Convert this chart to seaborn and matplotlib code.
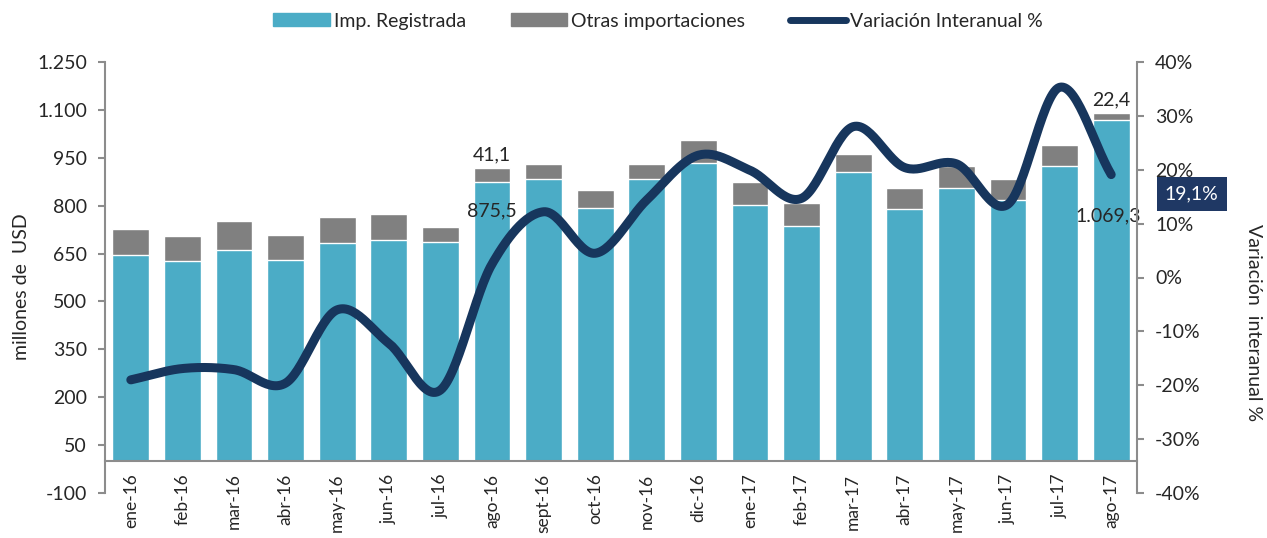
import matplotlib
matplotlib.use('Agg')
import matplotlib.pyplot as plt
import seaborn as sns
import pandas as pd
import numpy as np
from matplotlib.patches import Patch
from matplotlib.lines import Line2D
from matplotlib.ticker import FuncFormatter

# Datos (millones de USD y variacion interanual %)
meses = ['ene-16', 'feb-16', 'mar-16', 'abr-16', 'may-16', 'jun-16', 'jul-16',
         'ago-16', 'sept-16', 'oct-16', 'nov-16', 'dic-16', 'ene-17', 'feb-17',
         'mar-17', 'abr-17', 'may-17', 'jun-17', 'jul-17', 'ago-17']
imp_registrada = [645, 626, 661, 630, 683, 691, 687, 875.5, 884, 793,
                  883, 933, 802, 737, 904, 791, 856, 818, 924, 1069.3]
otras_importaciones = [82, 79, 92, 79, 82, 84, 45, 41.1, 48, 56,
                       47, 72, 71, 70, 58, 65, 67, 66, 66, 22.4]
variacion = [-19.0, -16.9, -17.1, -19.6, -6.0, -12.2, -20.9, 2.5, 12.2, 4.5,
             14.4, 22.7, 19.9, 14.7, 28.0, 20.4, 21.1, 13.6, 35.3, 19.1]

AZUL = '#4BACC6'
GRIS = '#808080'
NAVY = '#17365D'
EJE = '#8C8C8C'


def fmt_es(v, dec=1):
    """Formato numerico con separador de miles '.' y decimal ','."""
    s = f'{v:,.{dec}f}'
    return s.replace(',', 'X').replace('.', ',').replace('X', '.')


def suavizar(x, y, n=30):
    """Curva suavizada tipo Excel (Catmull-Rom) que pasa por los puntos."""
    x = np.asarray(x, float)
    y = np.asarray(y, float)
    px = np.concatenate([[2 * x[0] - x[1]], x, [2 * x[-1] - x[-2]]])
    py = np.concatenate([[2 * y[0] - y[1]], y, [2 * y[-1] - y[-2]]])
    t = np.linspace(0, 1, n, endpoint=False)[:, None]
    xs, ys = [], []
    for i in range(1, len(px) - 2):
        for p, out in ((px, xs), (py, ys)):
            p0, p1, p2, p3 = p[i - 1], p[i], p[i + 1], p[i + 2]
            c = 0.5 * ((2 * p1) + (-p0 + p2) * t + (2 * p0 - 5 * p1 + 4 * p2 - p3) * t ** 2
                       + (-p0 + 3 * p1 - 3 * p2 + p3) * t ** 3)
            out.extend(c.ravel())
    xs.append(x[-1])
    ys.append(y[-1])
    return np.array(xs), np.array(ys)


df = pd.DataFrame({'mes': meses, 'registrada': imp_registrada,
                   'otras': otras_importaciones, 'variacion': variacion})
df['total'] = df['registrada'] + df['otras']

sns.set_style('white')
plt.rcParams['font.family'] = ['Lato', 'DejaVu Sans']

fig = plt.figure(figsize=(12.67, 5.38), dpi=100)
ax = fig.add_axes([105 / 1267, 1 - 493 / 538, (1137 - 105) / 1267, (493 - 62) / 538])

# barras apiladas: total en gris y registrada encima en azul
sns.barplot(data=df, x='mes', y='total', color=GRIS, saturation=1, width=0.71, ax=ax)
sns.barplot(data=df, x='mes', y='registrada', color=AZUL, saturation=1, width=0.71, ax=ax)

ax.set_xlim(-0.5, len(meses) - 0.5)
ax.set_ylim(-100, 1250)
ax.set_yticks(range(-100, 1251, 150))
ax.yaxis.set_major_formatter(FuncFormatter(lambda v, p: fmt_es(v, 0)))
ax.set_xlabel('')
ax.set_ylabel('')

for s in ['top', 'right']:
    ax.spines[s].set_visible(False)
ax.spines['bottom'].set_position(('data', 0))
for s in ['left', 'bottom']:
    ax.spines[s].set_color(EJE)
    ax.spines[s].set_linewidth(1.5)

ax.set_xticks(np.arange(len(meses)))
ax.set_xticklabels(meses, rotation=90)
ax.set_xticks(np.arange(len(meses) - 1) + 0.5, minor=True)
ax.tick_params(axis='x', which='major', length=0, pad=9, labelsize=12.5)
ax.tick_params(axis='x', which='minor', length=5, width=1.5, color=EJE, direction='out')
ax.tick_params(axis='y', length=5, width=1.5, color=EJE, direction='out', pad=8, labelsize=14)

# etiquetas de datos
ax.annotate(fmt_es(otras_importaciones[7]), xy=(7, df['total'][7]), xytext=(0, 4),
            textcoords='offset points', ha='center', va='bottom', fontsize=14)
ax.annotate(fmt_es(otras_importaciones[19]), xy=(19, df['total'][19]), xytext=(0, 3),
            textcoords='offset points', ha='center', va='bottom', fontsize=14)
ax.annotate(fmt_es(imp_registrada[7]), xy=(7, imp_registrada[7]), xytext=(0, -15),
            textcoords='offset points', ha='center', va='top', fontsize=14)
ax.annotate(fmt_es(imp_registrada[19]), xy=(19, imp_registrada[19]), xytext=(-2, -63),
            textcoords='offset points', ha='center', va='top', fontsize=14)

# eje secundario: variacion interanual
ax2 = ax.twinx()
xs, ys = suavizar(np.arange(len(meses)), variacion)
sns.lineplot(x=xs, y=ys, sort=False, estimator=None, color=NAVY, linewidth=6.5,
             solid_capstyle='round', ax=ax2)
ax2.set_ylim(-40, 40)
ax2.set_yticks(range(-40, 41, 10))
ax2.yaxis.set_major_formatter(FuncFormatter(lambda v, p: f'{v:.0f}%'))
for s in ['top', 'left', 'bottom']:
    ax2.spines[s].set_visible(False)
ax2.spines['right'].set_color(EJE)
ax2.spines['right'].set_linewidth(1.5)
ax2.tick_params(axis='y', length=5, width=1.5, color=EJE, direction='out', pad=8, labelsize=14)

ax2.annotate(fmt_es(variacion[19]) + '%', xy=(19, variacion[19]), xytext=(58, -14),
             textcoords='offset points', ha='center', va='center', fontsize=14,
             color='white', annotation_clip=False,
             bbox=dict(boxstyle='square,pad=0.42', fc='#1F3864', ec='none'))

# titulos de ejes
fig.text(22 / 1267, 1 - 287 / 538, 'millones de  USD', rotation=90,
         ha='center', va='center', fontsize=14)
fig.text(1254 / 1267, 1 - 323 / 538, 'Variación  interanual %', rotation=-90,
         ha='center', va='center', fontsize=14)

# leyenda
handles = [Patch(color=AZUL), Patch(color=GRIS),
           Line2D([0], [0], color=NAVY, linewidth=5, solid_capstyle='round')]
labels = ['Imp. Registrada', 'Otras importaciones', 'Variación Interanual %']
fig.legend(handles, labels, loc='center', bbox_to_anchor=(658 / 1267, 1 - 21 / 538),
           ncol=3, frameon=False, fontsize=14, handlelength=2.9, handleheight=0.6,
           handletextpad=0.2, columnspacing=2.3)

fig.savefig('out.png', dpi=100)
